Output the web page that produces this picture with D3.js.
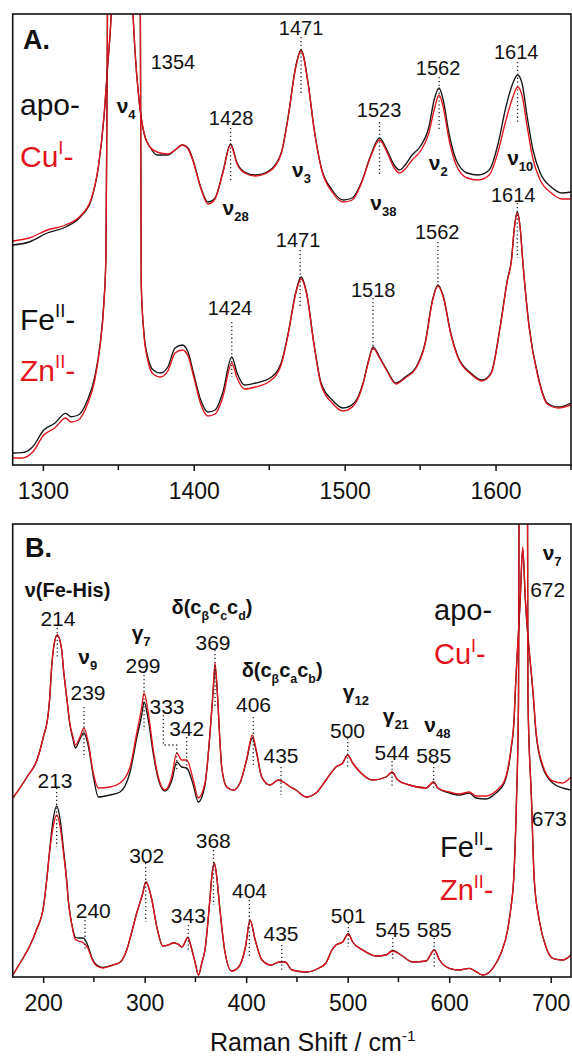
<!DOCTYPE html>
<html><head><meta charset="utf-8">
<script src="https://cdn.jsdelivr.net/npm/d3@7"></script>
<style>
html,body{margin:0;padding:0;background:#fff;}
svg{display:block;font-family:"Liberation Sans",Arial,Helvetica,sans-serif;}
</style>
</head><body>
<svg id="c" width="572" height="1057"></svg>
<script>
// ---------------- DATA ----------------
// Panel A: high-frequency region (cm-1, relative intensity)
const apoA = [[1280,220],[1290.9,223],[1302.9,232],[1315.1,238],[1324.8,248],[1332,265],[1336.8,298],[1340.5,348],[1342.9,398],[1345.3,451],[1348,580],[1352.5,700],[1356.5,580],[1359.7,451],[1361,415],[1363.7,365],[1367,332],[1371,318],[1375.6,310],[1382.9,310],[1387.6,315],[1392.5,320],[1396.2,317],[1399.5,305],[1404.6,278],[1409.4,263],[1414.1,267],[1419.1,292],[1424.4,321],[1428.7,302],[1433.6,293],[1440.9,290],[1450.6,295],[1457.9,312],[1462.5,348],[1467.5,398],[1471.1,415],[1475.8,382],[1479.6,338],[1484.4,298],[1491.7,275],[1499,265],[1505,267],[1510.9,282],[1516.9,308],[1523.1,327],[1528,315],[1532.8,300],[1536.4,295],[1540.1,300],[1544.7,310],[1549.8,318],[1555.8,338],[1559.3,365],[1562.6,377],[1565.3,365],[1569.1,332],[1573.9,305],[1581.2,292],[1588.5,290],[1595.8,295],[1601.8,322],[1606.4,355],[1611.5,382],[1614.6,390],[1617.5,382],[1621,348],[1624.8,315],[1629.6,292],[1636.9,278],[1644.1,272],[1650,273]];
const cuA = [[1280,224],[1290.9,227],[1302.9,235],[1315.1,240],[1324.8,249],[1332,266],[1336.8,299],[1340.5,349],[1342.9,399],[1345.3,451],[1348,580],[1352.5,700],[1356.5,580],[1359.7,451],[1361,415],[1363.7,365],[1367,332],[1371,318],[1375.6,313],[1382.9,311],[1387.6,315],[1392.5,320],[1396.2,316],[1399.5,304],[1404.6,277],[1409.4,261],[1414.1,266],[1419.1,291],[1424.4,320],[1428.7,301],[1433.6,292],[1440.9,289],[1450.6,294],[1457.9,311],[1462.5,347],[1467.5,397],[1471.1,414],[1475.8,381],[1479.6,337],[1484.4,297],[1491.7,273],[1499,263],[1505,265],[1510.9,281],[1516.9,307],[1523.1,325],[1528,313],[1532.8,297],[1536.4,292],[1540.1,296],[1544.7,305],[1549.8,313],[1555.8,332],[1559.3,355],[1562.6,370],[1565.3,358],[1569.1,326],[1573.9,300],[1581.2,287],[1588.5,285],[1595.8,290],[1601.8,314],[1606.4,342],[1611.5,368],[1614.6,378],[1617.5,370],[1621,338],[1624.8,306],[1629.6,285],[1636.9,272],[1644.1,266],[1650,266]];
const feA = [[1280,12],[1286,12.3],[1293.3,18.3],[1300.6,35],[1307.8,41.7],[1315.1,51.7],[1318.7,48.3],[1323.5,50],[1329.6,65],[1334.4,88],[1338,122],[1340.3,160],[1341.8,210],[1342.8,451],[1346.5,900],[1353,1300],[1360,900],[1364.6,451],[1365.2,180],[1367,132],[1369.5,108],[1373.1,95],[1377.9,92],[1382.8,98],[1387.6,117],[1392.5,120],[1396.2,113],[1399.8,92],[1404.6,65],[1409.4,53],[1414.2,55],[1419.1,72],[1425.2,108],[1428.7,92],[1433.6,80],[1440.9,82],[1450.6,87],[1457.9,102],[1462.6,132],[1467.5,172],[1471.1,188],[1474.8,172],[1479.6,122],[1484.4,82],[1491.7,65],[1499,57],[1506.3,62],[1512.2,82],[1515.9,105],[1518.8,118],[1523.1,108],[1528,95],[1534,82],[1540.1,88],[1547.4,98],[1553.3,122],[1558.2,165],[1561.8,180],[1565.5,168],[1570.3,132],[1575.2,108],[1583.6,92],[1590.9,85],[1597,92],[1603,138],[1607.8,185],[1610.5,205],[1612.5,238],[1614.4,253],[1616.3,238],[1618,205],[1622.3,138],[1628.3,88],[1634.3,62],[1641.6,58],[1650,62]];
const znA = [[1280,7],[1286,7],[1293.3,13],[1300.6,30],[1307.8,37],[1315.1,47],[1318.7,43],[1323.5,45],[1329.6,61],[1334.4,85],[1338,120],[1340.3,158],[1341.8,208],[1342.8,451],[1346.5,900],[1353,1300],[1360,900],[1364.6,451],[1365.2,180],[1367,130],[1369.5,105],[1373.1,91],[1377.9,88],[1382.8,94],[1387.6,112],[1392.5,115],[1396.2,109],[1399.8,89],[1404.6,61],[1409.4,49],[1414.2,51],[1419.1,67],[1425.2,102],[1428.7,87],[1433.6,76],[1440.9,78],[1450.6,84],[1457.9,100],[1462.6,131],[1467.5,171],[1471.1,186],[1474.8,171],[1479.6,121],[1484.4,80],[1491.7,62],[1499,54],[1506.3,60],[1512.2,81],[1515.9,104],[1518.8,117],[1523.1,107],[1528,94],[1534,81],[1540.1,87],[1547.4,97],[1553.3,121],[1558.2,164],[1561.8,179],[1565.5,167],[1570.3,131],[1575.2,107],[1583.6,91],[1590.9,84],[1597,91],[1603,137],[1607.8,184],[1610.5,204],[1612.5,237],[1614.4,252],[1616.3,237],[1618,204],[1622.3,137],[1628.3,87],[1634.3,61],[1641.6,57],[1650,60]];

// Panel B: low-frequency region
const apoB = [[170.3,179],[184.1,200],[193.9,217],[200.2,240],[205.1,264],[206.3,277],[208.4,310],[210,327],[213.9,342],[218.3,327],[219.8,310],[223.5,277],[226.4,252],[229.4,238],[231.7,229],[236.3,238],[240.2,244],[244.5,231],[249.4,201],[254.3,180],[265.9,182],[275.7,185],[285.6,205],[292.2,239],[297.1,262],[299.4,275],[303.6,257],[308.5,223],[313.4,198],[320,186],[326.6,196],[331.6,215],[336.5,210],[341.4,209],[347.9,192],[352.8,175],[359.4,192],[364.4,244],[367.6,287],[369.3,310],[371.7,282],[373.7,244],[375.9,210],[380.8,190],[387.3,187],[393.9,194],[400.5,217],[406,239],[410.3,224],[415.3,200],[423.5,192],[431.6,197],[436.6,195],[442.2,191],[449.1,187],[458.9,180],[468.8,184],[478.6,197],[488.5,210],[495.1,214],[500,222],[504.9,214],[513.1,204],[524.6,197],[537.8,200],[543.7,205],[549.3,197],[560.7,192],[577.2,189],[584.7,195],[588.7,189],[600.1,184],[610,182],[619.8,184],[626.4,179],[636.3,178],[646.1,184],[654.3,194],[660.9,227],[664.1,260],[664.8,277],[670,377],[672.4,428],[675,377],[683.1,277],[685.5,244],[692.1,210],[702,194],[711.8,189],[720,187]];
const cuB = [[170.3,179],[184.1,200],[193.9,217],[200.2,240],[205.1,264],[206.3,277],[208.4,310],[210,327],[213.9,342],[218.3,327],[219.8,310],[223.5,277],[226.4,253],[229.4,240],[231.7,232],[236.3,240],[240.2,249],[244.5,234],[249.4,204],[254.3,189],[265.9,190],[275.7,194],[285.6,210],[292.2,244],[297.1,270],[299.4,284],[303.6,264],[308.5,227],[313.4,200],[320,187],[326.6,200],[331.6,224],[336.5,217],[341.4,217],[347.9,197],[352.8,179],[359.4,194],[364.4,244],[367.6,290],[369.3,314],[371.7,284],[373.7,244],[375.9,210],[380.8,190],[387.3,187],[393.9,194],[400.5,218],[406,242],[410.3,225],[415.3,200],[423.5,192],[431.6,197],[436.6,195],[442.2,191],[449.1,187],[458.9,180],[468.8,184],[478.6,197],[488.5,210],[495.1,214],[500,222],[504.9,214],[513.1,204],[524.6,197],[537.8,200],[543.7,205],[549.3,197],[560.7,192],[577.2,189],[584.7,195],[588.7,189],[600.1,185],[610,183],[619.8,185],[626.4,181],[636.3,181],[646.1,186],[654.3,196],[660.9,229],[664.1,262],[664.8,279],[670,379],[672.4,430],[675,379],[683.1,279],[685.5,246],[692.1,212],[702,196],[711.8,194],[720,200]];
const feB = [[170.1,2],[179.1,17],[186.3,30],[193.4,47],[200.6,72],[203.5,97],[206.7,130],[209.8,157],[213.3,171],[216.8,157],[219.8,130],[223.2,97],[224.8,77],[226.4,64],[229.4,47],[231.4,40],[234.7,39],[239.7,39],[244.5,30],[248.1,19],[252.8,12],[258.8,9.5],[268.8,12],[276.1,15],[282.3,27],[286.5,42],[292.2,64],[297.7,82],[301.2,95],[306.7,79],[312,50],[317.9,31],[323,32],[328.2,34],[332.8,33],[336.7,30],[342.6,39.5],[346.3,28],[349.6,15],[353,2],[356.5,15],[359.4,27],[364.2,77],[366.3,102],[368.5,114],[370.8,102],[373.7,72],[378.8,27],[385.7,6],[392.6,10],[399.3,30],[403.8,57],[408.9,37],[415.6,17],[424.4,12],[432.8,15],[438.3,15],[445.1,7],[459.4,5],[471.7,9],[478.6,14],[484.5,27],[488.5,32],[495.1,35],[500.6,43.7],[504.9,35],[514.8,27],[527.9,21],[537.8,22],[544.2,26.5],[552.5,22],[564,15],[577.2,16],[585.3,27],[590.5,17],[600.1,8.7],[610,7],[619.8,8.7],[626.4,5.3],[633,2],[642.9,8.7],[651,23.7],[657.6,47],[660.9,70],[663.5,97],[666.3,177],[668.3,277],[668.8,453],[671,900],[673,1300],[675,900],[677.2,453],[677.6,277],[681.1,177],[683.8,97],[688.7,57],[695.3,30],[702,18.7],[711.8,17],[720,22]];
const znB = [[170.1,2],[179.1,17],[186.3,30],[193.4,47],[200.6,72],[203.5,97],[206.7,128],[209.8,150],[213.3,162],[216.8,150],[219.8,126],[223.2,95],[224.8,76],[226.4,63],[229.4,46],[231.4,38],[234.7,36],[239.7,34],[244.5,28],[248.1,18],[252.8,11],[258.8,9],[268.8,12],[276.1,15],[282.3,27],[286.5,42],[292.2,64],[297.7,82],[301.2,95],[306.7,79],[312,50],[317.9,31],[323,32],[328.2,34],[332.8,33],[336.7,30],[342.6,39.5],[346.3,28],[349.6,15],[353,2],[356.5,15],[359.4,27],[364.2,77],[366.3,102],[368.5,114],[370.8,102],[373.7,72],[378.8,27],[385.7,6],[392.6,10],[399.3,30],[403.8,57],[408.9,37],[415.6,17],[424.4,12],[432.8,15],[438.3,15],[445.1,7],[459.4,5],[471.7,9],[478.6,14],[484.5,27],[488.5,32],[495.1,35],[500.6,43],[504.9,35],[514.8,27],[527.9,21],[537.8,22],[544.2,26],[552.5,22],[564,15],[577.2,16],[585.3,27],[590.5,17],[600.1,8.7],[610,7],[619.8,8.7],[626.4,5.3],[633,2],[642.9,8.7],[651,23.7],[657.6,47],[660.9,70],[663.5,97],[666.3,177],[668.3,277],[668.8,453],[671,900],[673,1300],[675,900],[677.2,453],[677.6,277],[681.1,177],[683.8,97],[688.7,57],[695.3,30],[702,18.7],[711.8,17],[720,22]];

// axes
const majorA = [1300,1400,1500,1600];
const minorA = [1350,1450,1550,1650];
const majorB = [200,300,400,500,600,700];
const minorB = [250,350,450,550,650];

// peak number labels: [text, x (cm-1), y (intensity)]
const numsA = [["1354",1386.2,403],["1471",1471.1,437],["1428",1424.7,347],["1523",1522.8,355],["1562",1561.9,397],["1614",1613.7,413],
               ["1614",1611.7,270],["1562",1561.3,233],["1471",1469.1,225],["1518",1518.9,175],["1424",1424,157]];
const numsB = [["214",214.6,359],["239",244.2,285],["299",298.4,312],["333",322,271],["342",341.4,249],["369",367.3,335],["406",407.2,273],
               ["435",434.3,222],["500",499.8,247],["544",543.7,225],["585",584.7,222],["672",697,388],["673",698.6,159],
               ["213",211.7,197],["240",249.4,67],["302",302,122],["343",343,62],["368",367.6,137],["404",403.3,87],["435",434.3,44],
               ["501",500.6,62],["545",544.4,48],["585",585.3,48]];
// mode labels: [symbol, subscript, x (cm-1, left edge), y (intensity)]
const modesA = [["ν","4",1348.9,357],["ν","28",1419.1,255],["ν","3",1465.1,293],["ν","38",1517,260],["ν","2",1555.8,300],["ν","10",1607.7,305]];
const modesB = [["ν","9",234.6,318],["γ","7",287.2,342],["γ","12",495.1,283],["γ","21",534.5,259],["ν","48",575.5,250],["ν","7",692.1,422]];
// dotted leader lines: [x, y0, y1]
const dotsA = [[1471.1,428,372],[1424.4,337,283],[1523.1,343,290],[1562.6,388,335],[1614.6,403,343],
               [1614.4,262,207],[1561.8,223,182],[1470.5,215,158],[1518.8,167,115],[1425.2,143,88]];
const dotsB = [[213.9,349,320],[240.2,270,219],[299.4,302,247],[369.3,327,270],[341.4,240,207],[407,260,209],[434.3,210,182],
               [500,239,210],[543.7,216,190],[584.7,214,187],
               [213.3,189,130],[241.2,57,27],[301,114,55],[367.8,127,72],[343,52,25],[403.1,77,20],[435,32,7],[500.6,54,30],[544.4,39,17],[585.3,39,10]];
// 333 bent leader: points [x, y]
const bracket333 = [[318.4,262],[318.4,232],[331.6,232],[331.6,205]];

// ---------------- DRAW ----------------
const svg = d3.select("#c");
svg.append("rect").attr("width",572).attr("height",1057).attr("fill","#fff");
const BLACK = "#161616", RED = "#e3141b";
const L = 12.7, R = 571;

function rich(g, x, y, segs, size, o = {}) {
  const t = g.append("text").attr("x", x).attr("y", y).attr("font-size", size)
    .attr("text-anchor", o.anchor || "start").attr("font-weight", o.bold ? "bold" : "normal")
    .attr("fill", o.fill || "#111");
  let cur = 0;
  segs.forEach(s => {
    const [txt, k] = Array.isArray(s) ? s : [s, 0];
    const off = k < 0 ? size * 0.3 : k > 0 ? -size * 0.42 : 0;
    t.append("tspan").attr("dy", off - cur).attr("font-size", k ? size * 0.62 : size).text(txt);
    cur = off;
  });
  return t;
}

function panel(id, top, bottom, xd, yd, major, minor, series, nums, numSize, modes, dots) {
  const x = d3.scaleLinear().domain(xd).range([L, R]);
  const y = d3.scaleLinear().domain(yd).range([bottom, top]);
  const g = svg.append("g");
  g.append("clipPath").attr("id", id).append("rect").attr("x", L).attr("y", top).attr("width", R - L).attr("height", bottom - top);
  const line = d3.line().x(d => x(d[0])).y(d => y(d[1])).curve(d3.curveMonotoneX);
  const cg = g.append("g").attr("clip-path", `url(#${id})`);
  series.forEach(([data, col]) => {
    cg.append("path").attr("d", line(data)).attr("fill", "none").attr("stroke", col).attr("stroke-width", 1.35).attr("stroke-linejoin", "round");
  });
  dots.forEach(([dx, y0, y1]) => {
    g.append("line").attr("x1", x(dx)).attr("x2", x(dx)).attr("y1", y(y0)).attr("y2", y(y1))
      .attr("stroke", "#2a2a2a").attr("stroke-width", 1.3).attr("stroke-dasharray", "1.3,2.6");
  });
  nums.forEach(([t, nx, ny]) => {
    g.append("text").attr("x", x(nx)).attr("y", y(ny) + numSize * 0.36).attr("text-anchor", "middle")
      .attr("font-size", numSize).attr("fill", "#111").text(t);
  });
  modes.forEach(([s, sub, mx, my]) => {
    rich(g, x(mx), y(my) + 5, [[s, 0], [sub, -1]], 21, { bold: true });
  });
  g.append("rect").attr("x", L).attr("y", top).attr("width", R - L).attr("height", bottom - top)
    .attr("fill", "none").attr("stroke", "#111").attr("stroke-width", 1.6);
  const ax = g.append("g").attr("transform", `translate(0,${bottom})`)
    .call(d3.axisBottom(x).tickValues(major).tickSize(6).tickPadding(12).tickFormat(d3.format("d")));
  ax.select(".domain").remove();
  ax.selectAll("text").attr("font-size", 23).attr("fill", "#111").attr("font-family", "Liberation Sans, Arial, sans-serif");
  ax.selectAll("line").attr("stroke", "#111").attr("stroke-width", 1.5);
  minor.forEach(m => {
    g.append("line").attr("x1", x(m)).attr("x2", x(m)).attr("y1", bottom).attr("y2", bottom + 5)
      .attr("stroke", "#111").attr("stroke-width", 1.5);
  });
  return { g, x, y };
}

const A = panel("clipA", 14, 465, [1280, 1650], [0, 451], majorA, minorA,
  [[apoA, BLACK], [cuA, RED], [feA, BLACK], [znA, RED]], numsA, 20, modesA, dotsA);
const B = panel("clipB", 524, 977, [170, 720], [0, 453], majorB, minorB,
  [[apoB, BLACK], [cuB, RED], [feB, BLACK], [znB, RED]], numsB, 21, modesB, dotsB);

B.g.append("path").attr("d", d3.line().x(d => B.x(d[0])).y(d => B.y(d[1]))(bracket333))
  .attr("fill", "none").attr("stroke", "#2a2a2a").attr("stroke-width", 1.3).attr("stroke-dasharray", "1.3,2.6");

svg.append("text").attr("x", 23).attr("y", 49).attr("font-size", 27).attr("font-weight", "bold").attr("fill", "#111").text("A.");
svg.append("text").attr("x", 25).attr("y", 557).attr("font-size", 27).attr("font-weight", "bold").attr("fill", "#111").text("B.");

rich(svg, 20, 115, [["apo-", 0]], 30, { fill: "#111" });
rich(svg, 20, 167, [["Cu", 0], ["I", 1], ["-", 0]], 30, { fill: RED });
rich(svg, 20, 330, [["Fe", 0], ["II", 1], ["-", 0]], 30, { fill: "#111" });
rich(svg, 20, 381, [["Zn", 0], ["II", 1], ["-", 0]], 30, { fill: RED });
rich(svg, 434, 620, [["apo-", 0]], 29, { fill: "#111" });
rich(svg, 434, 664, [["Cu", 0], ["I", 1], ["-", 0]], 29, { fill: RED });
rich(svg, 440, 857, [["Fe", 0], ["II", 1], ["-", 0]], 29, { fill: "#111" });
rich(svg, 440, 900, [["Zn", 0], ["II", 1], ["-", 0]], 29, { fill: RED });

rich(B.g, B.x(224), B.y(387) + 7, [["ν(Fe-His)", 0]], 20, { bold: true, anchor: "middle" });
rich(B.g, B.x(366.3), B.y(370) + 7, [["δ(c", 0], ["β", -1], ["c", 0], ["c", -1], ["c", 0], ["d", -1], [")", 0]], 20, { bold: true, anchor: "middle" });
rich(B.g, B.x(435.4), B.y(307) + 7, [["δ(c", 0], ["β", -1], ["c", 0], ["a", -1], ["c", 0], ["b", -1], [")", 0]], 20, { bold: true, anchor: "middle" });

rich(svg, 210, 1051, [["Raman Shift / cm", 0], ["-1", 1]], 25, { fill: "#111" });
</script>
</body></html>
